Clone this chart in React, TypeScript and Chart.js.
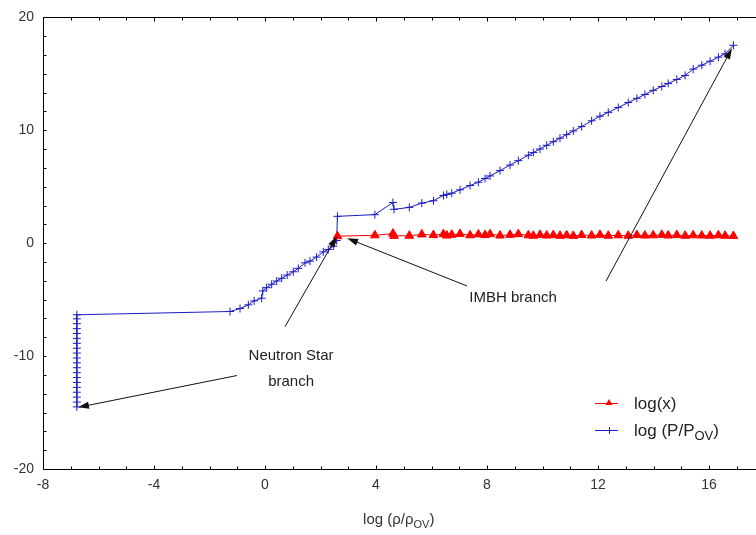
import React, { useEffect, useRef } from 'react';
import { Chart, registerables } from 'chart.js';

Chart.register(...registerables);

const FONT = "'Liberation Sans', Arial, Helvetica, sans-serif";

// ---- data ----
// Neutron-star branch: log(rho/rho_OV) and log(P/P_OV)
const nsX = [
  -6.78, -6.78, -6.78, -6.78, -6.78, -6.78, -6.78, -6.78, -6.78, -6.78,
  -6.78, -6.78, -6.78, -6.78, -6.78, -6.78, -6.78, -6.78, -6.78, -6.78,
  -1.26, -0.90, -0.60, -0.39, -0.12, -0.08, 0.06, 0.24, 0.42, 0.60,
  0.80, 1.02, 1.20, 1.44, 1.62, 1.86, 2.10, 2.28, 2.46, 2.58,
];
const nsLogP = [
  -14.5, -14.07, -13.63, -13.2, -12.77, -12.33, -11.9, -11.47, -11.03, -10.6,
  -10.17, -9.73, -9.3, -8.87, -8.43, -8.0, -7.57, -7.13, -6.7, -6.34,
  -6.05, -5.79, -5.46, -5.11, -4.87, -4.23, -3.94, -3.64, -3.35, -3.11,
  -2.82, -2.53, -2.23, -1.74, -1.59, -1.23, -0.77, -0.56, -0.26, 0.24,
];
// IMBH branch: shared log(rho/rho_OV)
const imbhX = [
  2.61, 3.96, 4.61, 4.65, 5.20, 5.65, 6.07, 6.43, 6.55, 6.73,
  7.03, 7.39, 7.69, 7.93, 8.11, 8.47, 8.83, 9.13, 9.49, 9.67,
  9.91, 10.15, 10.39, 10.63, 10.87, 11.11, 11.41, 11.77, 12.07, 12.37,
  12.73, 13.09, 13.40, 13.69, 13.99, 14.30, 14.53, 14.84, 15.14, 15.43,
  15.74, 16.04, 16.34, 16.58, 16.88,
];
const imbhLogP = [
  2.38, 2.53, 3.61, 3.00, 3.17, 3.55, 3.76, 4.23, 4.32, 4.43,
  4.73, 5.11, 5.40, 5.73, 5.96, 6.43, 6.92, 7.31, 7.79, 8.03,
  8.34, 8.67, 8.99, 9.30, 9.62, 9.94, 10.33, 10.84, 11.25, 11.59,
  12.02, 12.46, 12.83, 13.17, 13.54, 13.88, 14.15, 14.50, 14.86, 15.42,
  15.77, 16.12, 16.48, 16.78, 17.53,
];
const imbhLogX = [
  0.62, 0.70, 0.85, 0.65, 0.66, 0.78, 0.72, 0.80, 0.68, 0.75,
  0.82, 0.70, 0.78, 0.72, 0.80, 0.68, 0.74, 0.80, 0.70, 0.66,
  0.74, 0.68, 0.72, 0.66, 0.70, 0.65, 0.72, 0.68, 0.74, 0.66,
  0.70, 0.66, 0.72, 0.68, 0.70, 0.74, 0.68, 0.72, 0.66, 0.70,
  0.68, 0.66, 0.70, 0.66, 0.64,
];

const seriesNames = ['log(x)', 'log (P/P', 'OV', ')'];
const xTickLabels = [-8, -4, 0, 4, 8, 12, 16];
const yTickLabels = [-20, -10, 0, 10, 20];
const X_MIN = -8, X_MAX = 18, X_MINOR = 1;
const Y_MIN = -20, Y_MAX = 20, Y_MINOR = 10 / 6;

// annotations in data coordinates
const arrows = [
  { from: [0.72, -7.40], to: [2.59, 0.62] },
  { from: [-1.01, -11.72], to: [-6.74, -14.54] },
  { from: [7.28, -3.79], to: [2.96, 0.44] },
  { from: [12.29, -3.35], to: [16.83, 17.27] },
];
const notes = [
  { text: 'Neutron Star', x: 0.94, y: -9.96 },
  { text: 'branch', x: 0.94, y: -12.25 },
  { text: 'IMBH branch', x: 8.94, y: -4.85 },
];

const BLUE = '#1c1cc4';
const RED = '#ff0000';

function drawArrow(ctx: CanvasRenderingContext2D, x1: number, y1: number, x2: number, y2: number) {
  const ang = Math.atan2(y2 - y1, x2 - x1);
  const L = 11, W = 3.5;
  ctx.beginPath();
  ctx.moveTo(x1, y1);
  ctx.lineTo(x2 - Math.cos(ang) * (L - 2), y2 - Math.sin(ang) * (L - 2));
  ctx.stroke();
  ctx.beginPath();
  ctx.moveTo(x2, y2);
  ctx.lineTo(x2 - Math.cos(ang) * L - Math.sin(ang) * W, y2 - Math.sin(ang) * L + Math.cos(ang) * W);
  ctx.lineTo(x2 - Math.cos(ang) * L + Math.sin(ang) * W, y2 - Math.sin(ang) * L - Math.cos(ang) * W);
  ctx.closePath();
  ctx.fill();
}

function drawSubText(ctx: CanvasRenderingContext2D, parts: string[], x: number, y: number, size: number, align: 'left' | 'center') {
  const sub = Math.round(size * 0.75);
  ctx.textBaseline = 'middle';
  ctx.textAlign = 'left';
  ctx.font = `${size}px ${FONT}`;
  const w1 = ctx.measureText(parts[0]).width;
  const w3 = ctx.measureText(parts[2]).width;
  ctx.font = `${sub}px ${FONT}`;
  const w2 = ctx.measureText(parts[1]).width;
  const total = w1 + w2 + w3;
  let cx = align === 'center' ? x - total / 2 : x;
  ctx.font = `${size}px ${FONT}`;
  ctx.fillText(parts[0], cx, y);
  cx += w1;
  ctx.font = `${sub}px ${FONT}`;
  ctx.fillText(parts[1], cx, y + size * 0.3);
  cx += w2;
  ctx.font = `${size}px ${FONT}`;
  ctx.fillText(parts[2], cx, y);
}

const decor = {
  id: 'decor',
  afterDraw(chart: any) {
    const { ctx, chartArea: a, scales } = chart;
    const xs = scales.x, ys = scales.y;
    ctx.save();
    ctx.strokeStyle = '#000';
    ctx.fillStyle = '#000';
    ctx.lineWidth = 1;
    const L0 = Math.round(a.left) + 0.5, R0 = Math.round(a.right) + 0.5;
    const T0 = Math.round(a.top) + 0.5, B0 = Math.round(a.bottom) + 0.5;
    ctx.strokeRect(L0, T0, R0 - L0, B0 - T0);
    const seg = (x1: number, y1: number, x2: number, y2: number) => {
      ctx.beginPath(); ctx.moveTo(x1, y1); ctx.lineTo(x2, y2); ctx.stroke();
    };
    xs.ticks.forEach((t: any) => {
      const px = Math.round(xs.getPixelForValue(t.value)) + 0.5;
      const len = xTickLabels.includes(Math.round(t.value)) ? 4 : 3;
      seg(px, B0, px, B0 - len);
      seg(px, T0, px, T0 + len);
    });
    ys.ticks.forEach((t: any) => {
      const py = Math.round(ys.getPixelForValue(t.value)) + 0.5;
      seg(L0, py, L0 + 3, py);
      seg(R0, py, R0 - 3, py);
    });

    // arrows
    ctx.strokeStyle = '#111';
    ctx.fillStyle = '#111';
    arrows.forEach((ar) => {
      drawArrow(ctx,
        xs.getPixelForValue(ar.from[0]), ys.getPixelForValue(ar.from[1]),
        xs.getPixelForValue(ar.to[0]), ys.getPixelForValue(ar.to[1]));
    });
    // notes
    ctx.fillStyle = '#222';
    ctx.font = `15px ${FONT}`;
    ctx.textAlign = 'center';
    ctx.textBaseline = 'middle';
    notes.forEach((n) => {
      ctx.fillText(n.text, xs.getPixelForValue(n.x), ys.getPixelForValue(n.y));
    });

    // x axis title
    ctx.fillStyle = '#333';
    drawSubText(ctx, ['log (\u03C1/\u03C1', 'OV', ')'], (a.left + a.right) / 2 - 5, 520, 15, 'center');

    // legend
    const lx = 595, lx2 = 618, ly1 = 403, ly2 = 430;
    ctx.lineWidth = 1;
    ctx.strokeStyle = RED;
    seg(lx, ly1 + 0.5, lx2, ly1 + 0.5);
    ctx.fillStyle = RED;
    ctx.beginPath();
    ctx.moveTo(609, ly1 - 4);
    ctx.lineTo(612.5, ly1 + 2);
    ctx.lineTo(605.5, ly1 + 2);
    ctx.closePath();
    ctx.fill();
    ctx.strokeStyle = BLUE;
    seg(lx, ly2 + 0.5, lx2, ly2 + 0.5);
    seg(609.5, ly2 - 3, 609.5, ly2 + 4);
    ctx.fillStyle = '#222';
    ctx.font = `17px ${FONT}`;
    ctx.textAlign = 'left';
    ctx.textBaseline = 'middle';
    ctx.fillText(seriesNames[0], 634, ly1 + 1);
    drawSubText(ctx, [seriesNames[1], seriesNames[2], seriesNames[3]], 634, ly2 + 1, 17, 'left');
    ctx.restore();
  },
};

export default function App() {
  const ref = useRef<HTMLCanvasElement | null>(null);
  useEffect(() => {
    if (!ref.current) return;
    const blueData = nsX.map((x, i) => ({ x, y: nsLogP[i] }))
      .concat(imbhX.map((x, i) => ({ x, y: imbhLogP[i] })));
    const redData = imbhX.map((x, i) => ({ x, y: imbhLogX[i] }));
    const chart = new Chart(ref.current, {
      type: 'scatter',
      data: {
        datasets: [
          {
            label: 'log(x)',
            data: redData,
            showLine: true,
            borderColor: RED,
            backgroundColor: RED,
            borderWidth: 1,
            pointStyle: 'triangle',
            pointRadius: 5,
            pointBorderWidth: 1,
            pointBorderColor: RED,
            pointBackgroundColor: RED,
          },
          {
            label: 'log (P/P_OV)',
            data: blueData,
            showLine: true,
            borderColor: BLUE,
            backgroundColor: BLUE,
            borderWidth: 1,
            pointStyle: 'cross',
            pointRadius: 4,
            pointBorderWidth: 1,
            pointBorderColor: BLUE,
          },
        ],
      },
      options: {
        responsive: false,
        animation: false,
        devicePixelRatio: 1,
        layout: { padding: { left: 0, top: 15, right: 25.5, bottom: 0 } },
        plugins: { legend: { display: false }, tooltip: { enabled: false } },
        scales: {
          x: {
            type: 'linear',
            min: X_MIN,
            max: X_MAX,
            grid: { display: false, drawTicks: false },
            border: { display: false },
            afterBuildTicks: (s: any) => {
              const t = [];
              for (let v = X_MIN; v <= X_MAX + 1e-9; v += X_MINOR) t.push({ value: v });
              s.ticks = t;
            },
            afterFit: (s: any) => { s.height = 66; },
            ticks: {
              autoSkip: false,
              maxRotation: 0,
              padding: 8,
              color: '#333',
              font: { family: FONT, size: 14 },
              callback: (v: any) => (xTickLabels.includes(Math.round(v)) && Math.abs(v - Math.round(v)) < 1e-6 ? String(Math.round(v)) : ''),
            },
          },
          y: {
            type: 'linear',
            min: Y_MIN,
            max: Y_MAX,
            grid: { display: false, drawTicks: false },
            border: { display: false },
            afterBuildTicks: (s: any) => {
              const t = [];
              for (let i = 0; i <= Math.round((Y_MAX - Y_MIN) / Y_MINOR); i++) t.push({ value: Y_MIN + i * Y_MINOR });
              s.ticks = t;
            },
            afterFit: (s: any) => { s.width = 43; },
            ticks: {
              autoSkip: false,
              padding: 9,
              color: '#333',
              font: { family: FONT, size: 14 },
              callback: (v: any) => {
                const r = Math.round(v);
                return Math.abs(v - r) < 1e-6 && yTickLabels.includes(r) ? String(r) : '';
              },
            },
          },
        },
      },
      plugins: [decor],
    } as any);
    return () => chart.destroy();
  }, []);
  return (
    <div style={{ position: 'fixed', left: 0, top: 0, width: 756, height: 535, overflow: 'hidden', background: '#fff' }}>
      <canvas ref={ref} width={790} height={535} style={{ display: 'block', width: 790, height: 535 }} />
    </div>
  );
}
